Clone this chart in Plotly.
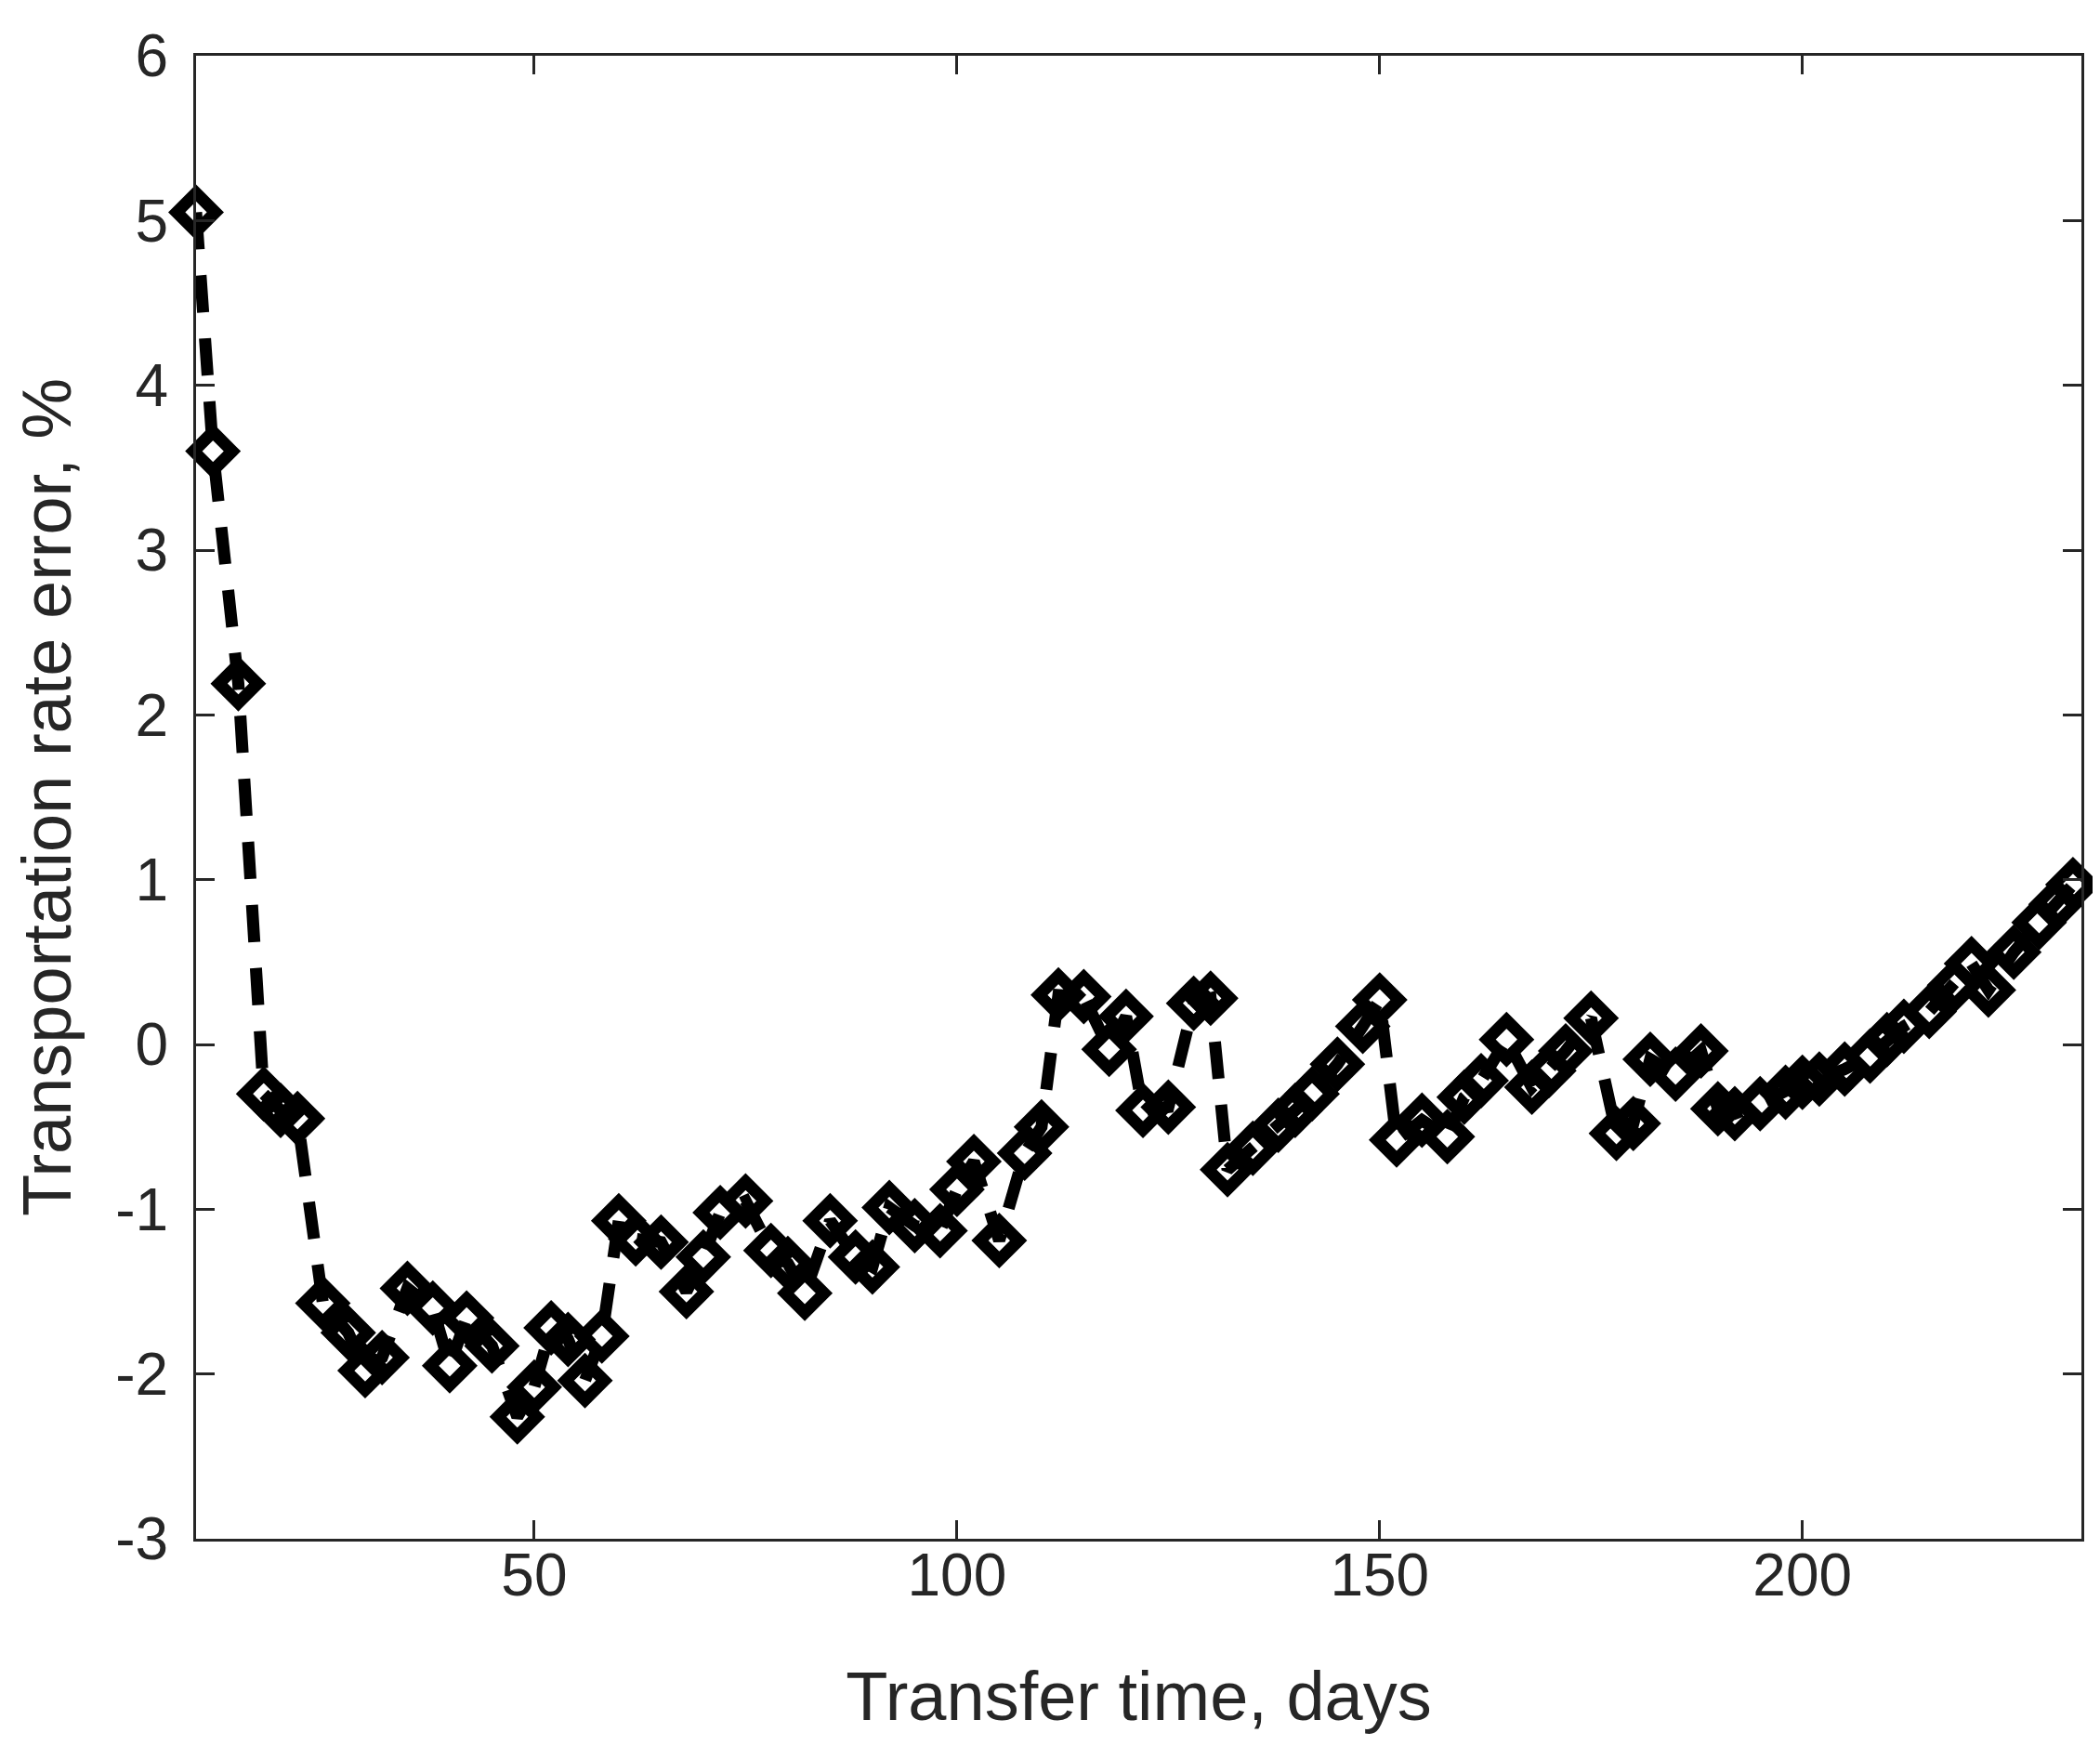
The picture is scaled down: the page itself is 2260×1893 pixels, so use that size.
import plotly.graph_objects as go

# Transfer time, days
transfer_days = [10, 12, 15, 18, 20, 22, 25, 28, 30, 32, 35, 38, 40, 42, 45, 48, 50, 52, 54, 56,
                 58, 60, 62, 65, 68, 70, 72, 75, 78, 80, 82, 85, 88, 90, 92, 95, 98, 100, 102, 105,
                 108, 110, 112, 115, 118, 120, 122, 125, 128, 130, 132, 135, 138, 140, 142, 145, 148, 150,
                 152, 155, 158, 160, 162, 165, 168, 170, 172, 175, 178, 180, 182, 185, 188, 190, 192,
                 195, 198, 200, 202, 205, 208, 210, 212, 215, 218, 220, 222, 225, 228, 230, 232]

# Transportation rate error, %
rate_error = [5.05, 3.60, 2.19, -0.30, -0.40, -0.45, -1.57, -1.75, -1.98, -1.90, -1.48, -1.60, -1.95, -1.66,
              -1.83, -2.26, -2.08, -1.72, -1.79, -2.04, -1.77, -1.07, -1.18, -1.20, -1.50, -1.29, -1.02,
              -0.95, -1.25, -1.33, -1.51, -1.07, -1.29, -1.35, -0.99, -1.10, -1.13, -0.88, -0.71, -1.19,
              -0.66, -0.50, 0.30, 0.29, -0.03, 0.17, -0.40, -0.38, 0.25, 0.28, -0.76, -0.63, -0.49, -0.40,
              -0.30, -0.12, 0.11, 0.27, -0.58, -0.46, -0.56, -0.32, -0.22, 0.03, -0.26, -0.16, -0.04, 0.16,
              -0.54, -0.48, -0.09, -0.18, -0.04, -0.39, -0.42, -0.36, -0.29, -0.23, -0.21, -0.15, -0.07,
              0.03, 0.11, 0.20, 0.36, 0.49, 0.33, 0.56, 0.74, 0.85, 0.97]

x_ticks = [50, 100, 150, 200]
x_tick_labels = ["50", "100", "150", "200"]
y_ticks = [-3, -2, -1, 0, 1, 2, 3, 4, 5, 6]
y_tick_labels = ["-3", "-2", "-1", "0", "1", "2", "3", "4", "5", "6"]

AX = "#262626"
FONT = "Liberation Sans, Arial, Helvetica, sans-serif"

fig = go.Figure()
fig.add_trace(go.Scatter(
    x=transfer_days, y=rate_error,
    mode="lines+markers",
    line=dict(color="black", width=13, dash="40px,28px"),
    marker=dict(symbol="diamond", size=32, color="rgba(0,0,0,0)",
                line=dict(color="black", width=13)),
    cliponaxis=False,
    showlegend=False,
))

axis_common = dict(
    showline=True, linecolor=AX, linewidth=3, mirror="ticks",
    ticks="inside", ticklen=20, tickwidth=3, tickcolor=AX,
    showgrid=False, zeroline=False,
    tickfont=dict(family=FONT, size=64, color=AX),
)

fig.update_layout(
    width=2260, height=1893,
    paper_bgcolor="white", plot_bgcolor="white",
    margin=dict(l=203, r=28, t=52, b=245),
    font=dict(family=FONT, color=AX),
    xaxis=dict(range=[10, 233], tickvals=x_ticks, ticktext=x_tick_labels,
               title=dict(text="Transfer time, days", font=dict(family=FONT, size=74, color=AX),
                          standoff=70),
               ticklabelstandoff=-19,
               **axis_common),
    yaxis=dict(range=[-3, 6], tickvals=y_ticks, ticktext=y_tick_labels,
               title=dict(text="Transportation rate error, %", font=dict(family=FONT, size=74, color=AX),
                          standoff=24),
               ticklabelstandoff=14,
               **axis_common),
)

fig.write_html("out.html")
